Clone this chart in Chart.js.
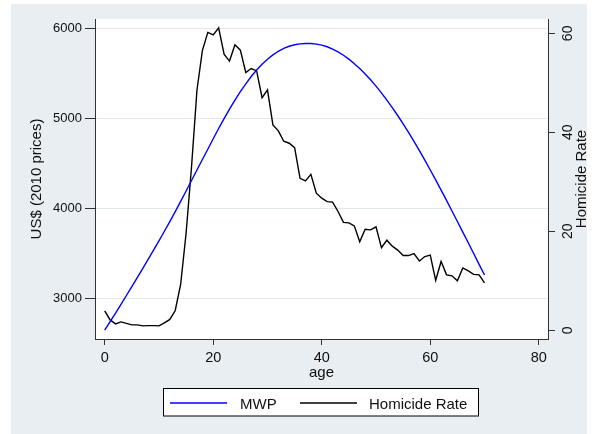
<!DOCTYPE html>
<html>
<head>
<meta charset="utf-8">
<script src="https://cdn.jsdelivr.net/npm/chart.js@4.4.1/dist/chart.umd.min.js"></script>
<style>
html,body{margin:0;padding:0;background:#fff;}
canvas{display:block;}
</style>
</head>
<body>
<canvas id="c" width="595" height="434"></canvas>
<script>
// ---- data ----
const ages = [0,1,2,3,4,5,6,7,8,9,10,11,12,13,14,15,16,17,18,19,20,21,22,23,24,25,26,27,28,29,30,31,32,33,34,35,36,37,38,39,40,41,42,43,44,45,46,47,48,49,50,51,52,53,54,55,56,57,58,59,60,61,62,63,64,65,66,67,68,69,70];
const mwp = [2645,2740,2836,2933,3031,3130,3230,3331,3433,3536,3640,3746,3854,3964,4078,4194,4311,4428,4544,4659,4775,4890,5000,5105,5205,5299,5387,5468,5541,5605,5661,5709,5749,5781,5805,5821,5831,5836,5835,5829,5817,5799,5774,5743,5705,5661,5611,5556,5496,5431,5361,5286,5206,5122,5034,4942,4846,4746,4643,4537,4428,4317,4204,4089,3972,3854,3737,3618,3498,3378,3259];
const homicide = [3.9,2.1,1.3,1.7,1.4,1.1,1.1,0.9,0.95,0.95,0.9,1.5,2.2,4.0,9.3,19.6,33.0,48.5,56.5,60.2,59.7,61.1,55.8,54.4,57.7,56.6,52.1,52.9,52.4,47.0,48.6,41.5,40.3,38.2,37.8,36.9,30.7,30.2,31.5,27.7,26.7,26.0,25.9,24.0,21.8,21.7,21.1,17.9,20.4,20.3,20.9,16.7,18.2,17.0,16.2,15.1,15.1,15.5,14.0,14.9,15.2,10.1,13.9,11.2,11.0,10.0,12.6,12.0,11.3,11.2,9.6];
const seriesNames = ['MWP', 'Homicide Rate'];
const xTicks = [0,20,40,60,80];
const leftTicks = [3000,4000,5000,6000];
const rightTicks = [0,20,40,60];
const xTitle = 'age';
const leftTitle = 'US$ (2010 prices)';
const rightTitle = 'Homicide Rate';

// ---- styling ----
const FONT = '"Liberation Sans", Arial, Helvetica, sans-serif';
const TXT = '#111111';
const AX = '#333333';
const GRID = '#e0e8eb';
const BG = '#e8eef1';

const toXY = (ys) => ages.map((a, i) => ({x: a, y: ys[i]}));

const bgPlugin = {
  id: 'bg',
  beforeDraw(chart) {
    const {ctx, chartArea: a} = chart;
    ctx.save();
    ctx.fillStyle = '#ffffff';
    ctx.fillRect(0, 0, chart.width, chart.height);
    ctx.fillStyle = BG;
    ctx.fillRect(11, 4, 576, 430);
    ctx.fillStyle = '#ffffff';
    ctx.fillRect(a.left, a.top, a.right - a.left, a.bottom - a.top);
    ctx.restore();
  }
};

const textPlugin = {
  id: 'texts',
  afterDraw(chart) {
    const {ctx, chartArea: a} = chart;
    const yr = chart.scales.y1;
    ctx.save();
    ctx.fillStyle = TXT;
    // right axis tick labels (rotated)
    ctx.font = '14px ' + FONT;
    ctx.textAlign = 'center';
    ctx.textBaseline = 'alphabetic';
    rightTicks.forEach(v => {
      const y = yr.getPixelForValue(v);
      ctx.save();
      ctx.translate(572, y);
      ctx.rotate(-Math.PI / 2);
      ctx.fillText(String(v), 0, 0);
      ctx.restore();
    });
    const cy = (a.top + a.bottom) / 2;
    const cx = (a.left + a.right) / 2;
    // axis titles
    ctx.font = '15px ' + FONT;
    ctx.save();
    ctx.translate(40.5, cy);
    ctx.rotate(-Math.PI / 2);
    ctx.fillText(leftTitle, 0, 0);
    ctx.restore();
    ctx.save();
    ctx.translate(585.5, cy);
    ctx.rotate(-Math.PI / 2);
    ctx.fillText(rightTitle, 0, 0);
    ctx.restore();
    ctx.fillText(xTitle, cx, 376.5);
    // legend
    ctx.fillStyle = '#ffffff';
    ctx.fillRect(163.5, 388.5, 315, 27.5);
    ctx.strokeStyle = '#000000';
    ctx.lineWidth = 1;
    ctx.strokeRect(163.5, 388.5, 315, 27.5);
    const items = [
      {x0: 170, x1: 227, tx: 240},
      {x0: 300, x1: 357, tx: 369}
    ];
    ctx.textAlign = 'left';
    chart.data.datasets.forEach((ds, i) => {
      const it = items[i];
      ctx.strokeStyle = ds.borderColor;
      ctx.lineWidth = 1.4;
      ctx.beginPath();
      ctx.moveTo(it.x0, 403);
      ctx.lineTo(it.x1, 403);
      ctx.stroke();
      ctx.fillStyle = TXT;
      ctx.font = '15px ' + FONT;
      ctx.fillText(ds.label, it.tx, 409);
    });
    ctx.restore();
  }
};

new Chart(document.getElementById('c'), {
  type: 'line',
  data: {
    datasets: [
      {label: seriesNames[0], data: toXY(mwp), yAxisID: 'y', borderColor: '#0000ff', borderWidth: 1.4, pointRadius: 0, tension: 0, fill: false},
      {label: seriesNames[1], data: toXY(homicide), yAxisID: 'y1', borderColor: '#000000', borderWidth: 1.4, pointRadius: 0, tension: 0, fill: false}
    ]
  },
  options: {
    responsive: false,
    animation: false,
    devicePixelRatio: 1,
    layout: {padding: {top: 19, left: 0, right: 0, bottom: 0}},
    plugins: {legend: {display: false}, tooltip: {enabled: false}},
    scales: {
      x: {
        type: 'linear', position: 'bottom', min: -1.79, max: 81.7,
        afterBuildTicks: s => { s.ticks = xTicks.map(v => ({value: v})); },
        afterFit: s => { s.height = 95; },
        ticks: {font: {family: FONT, size: 14.5}, color: TXT, padding: 4, maxRotation: 0, minRotation: 0, autoSkip: false, callback: v => String(v)},
        grid: {drawOnChartArea: false, drawTicks: true, tickLength: 6, tickColor: AX, color: AX},
        border: {display: true, color: AX, width: 1}
      },
      y: {
        type: 'linear', position: 'left', min: 2547, max: 6108,
        afterBuildTicks: s => { s.ticks = leftTicks.map(v => ({value: v})); },
        afterFit: s => { s.width = 95; },
        ticks: {font: {family: FONT, size: 13}, color: TXT, padding: 3, callback: v => String(v)},
        grid: {drawOnChartArea: true, color: GRID, lineWidth: 1, drawTicks: true, tickLength: 10, tickColor: AX},
        border: {display: true, color: AX, width: 1}
      },
      y1: {
        type: 'linear', position: 'right', min: -1.76, max: 62.9,
        afterBuildTicks: s => { s.ticks = rightTicks.map(v => ({value: v})); },
        afterFit: s => { s.width = 47; },
        ticks: {display: false},
        grid: {drawOnChartArea: false, drawTicks: true, tickLength: 7, tickColor: AX, color: AX},
        border: {display: true, color: AX, width: 1}
      }
    }
  },
  plugins: [bgPlugin, textPlugin]
});
</script>
</body>
</html>
